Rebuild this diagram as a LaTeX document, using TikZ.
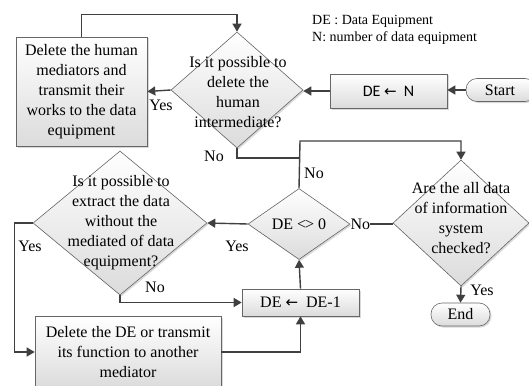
\documentclass[tikz,border=0pt]{standalone}
\usepackage{fontspec}
\setmainfont{Liberation Serif}
\newfontfamily\calfont{Carlito}
\newfontfamily\djfont{DejaVu Sans}
\usetikzlibrary{shapes.geometric,arrows.meta,shadows,calc}
\definecolor{lnc}{HTML}{404040}
\tikzset{
  shp/.style={draw=lnc!80, line width=0.6pt, top color=white, bottom color=black!14,
    drop shadow={shadow xshift=1.5pt, shadow yshift=-1.5pt, fill=black!25, opacity=0.6}},
  boxx/.style={shp, rectangle, inner sep=0pt, align=center},
  dia/.style={shp, diamond, inner sep=0pt},
  term/.style={shp, rectangle, rounded corners=11pt, inner sep=0pt},
  txt/.style={align=center, inner sep=0pt, font=\fontsize{16}{20}\selectfont},
  lab/.style={inner sep=0pt, font=\fontsize{16}{18}\selectfont},
  arr/.style={draw=lnc, line width=1.4pt, -{Triangle[length=8pt,width=9pt]}},
  ln/.style={draw=lnc, line width=1.4pt},
}
\begin{document}
\begin{tikzpicture}[x=1pt,y=-1pt]
\useasboundingbox (0,0) rectangle (529,385);
% shapes
\node[boxx, minimum width=131pt, minimum height=109pt] (b1) at (81.5,91.5) {};
\node[txt] (b1t) at (b1.center) {Delete the human\\mediators and\\transmit their\\works to the data\\equipment};
\node[dia, minimum width=132pt, minimum height=116pt] (d1) at (237,90) {};
\node[txt] (d1t) at (238,92) {Is it possible to\\delete the\\human\\intermediate?};
\node[boxx, minimum width=117pt, minimum height=34pt] (bN) at (388.5,91) {};
\node[inner sep=0pt, font=\calfont\fontsize{16}{18}\selectfont] (bNt) at (bN.center) {DE {\djfont\fontsize{15}{18}\selectfont ←}\ \ N};
\node[term, minimum width=70pt, minimum height=23pt] (st) at (501,90) {};
\node[lab] (stt) at (500,90) {Start};
\node[dia, minimum width=102pt, minimum height=71pt] (d2) at (299,224) {};
\node[lab] (d2t) at (d2.center) {DE {<\kern-0.07em>} 0};
\node[dia, minimum width=136pt, minimum height=126pt] (d4) at (461,223) {};
\node[txt] (d4t) at (461,218) {Are the all data\\of information\\system\\checked?};
\node[term, minimum width=59pt, minimum height=23pt] (en) at (460.5,314.5) {};
\node[lab] (ent) at (en.center) {End};
\node[boxx, minimum width=117pt, minimum height=27pt] (bD) at (300.5,302.5) {};
\node[lab] (bDt) at (bD.center) {DE {\djfont\fontsize{15}{18}\selectfont ←}\ \ DE-1};
\node[dia, minimum width=174pt, minimum height=144pt] (d3) at (120,223) {};
\node[txt] (d3t) at (121,223) {Is it possible to\\extract the data\\without the\\mediated of data\\equipment?};
\node[boxx, minimum width=186pt, minimum height=72pt] (b3) at (128,352) {};
\node[txt] (b3t) at (b3.center) {Delete the DE or transmit\\its function to another\\mediator};
% legend
\node[align=left, anchor=west, inner sep=0pt, font=\fontsize{14}{17}\selectfont] (leg) at (312,29.5) {DE : Data Equipment\\N: number of data equipment};
% connectors
\coordinate (c1) at (300,158);
\coordinate (c2) at (300,141);
\draw[arr] (b1.north) -- ++(0,-22) -| (d1.north);
\draw[arr] (d1.west) -- (b1.east);
\node[lab] (y1) at (161,105) {Yes};
\draw[arr] (st.west) -- (st.west -| bN.east);
\draw[arr] (bN.west) -- (bN.west -| d1.east);
\draw[ln] (d1.south) |- (c1);
\node[lab] (n1) at (214,156) {No};
\draw[arr] (d2.north) -- (c2) -| (d4.north);
\node[lab] (n2) at (314,173) {No};
\node[lab, anchor=west] (n3) at (d2.east) {No};
\draw[ln] (n3.east) -- (n3.east -| d4.west);
\draw[arr] (d4.south) -- (en.north);
\node[lab] (y4) at (482,290) {Yes};
\draw[arr] (bD.north) -- (d2.south);
\draw[arr] (d2.west) -- (d3.east);
\node[lab] (y2) at (237,246) {Yes};
\draw[arr] (d3.south) |- (bD.west);
\node[lab] (n4) at (155,287) {No};
\draw[arr] (d3.west) -- ++(-18,0) |- (b3.west);
\node[lab] (y3) at (30,246) {Yes};
\draw[arr] (b3.east) -| (bD.south);
\end{tikzpicture}
\end{document}
